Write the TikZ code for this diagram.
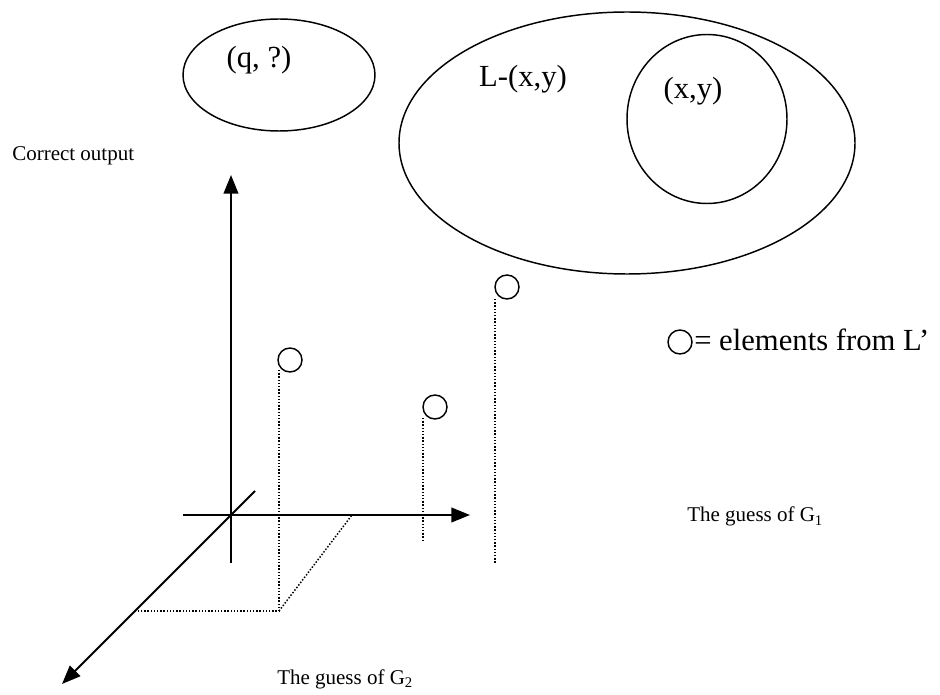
\documentclass[tikz,border=0pt]{standalone}
\usepackage{fontspec}
\setmainfont{Liberation Serif}
\usetikzlibrary{arrows.meta,shapes.geometric}
\begin{document}
\begin{tikzpicture}[x=0.75pt,y=-0.75pt,
  axis/.style={line width=1.5pt,-{Triangle[length=14pt,width=11pt]}},
  dotline/.style={line width=1.1pt,dash pattern=on 1.1pt off 1.3pt},
  blob/.style={draw,line width=1.1pt,ellipse,inner sep=0pt},
  pt/.style={draw,circle,line width=1.1pt,minimum size=18pt,inner sep=0pt},
  small/.style={font=\fontsize{15.75}{18}\selectfont,inner sep=0pt},
  big/.style={font=\fontsize{23}{27}\selectfont,inner sep=0pt}]
\useasboundingbox (0,0) rectangle (940,695);
% sets
\node[blob,minimum width=144pt,minimum height=84pt] (qset) at (279,75) {};
\node[big] (qlab) at (259,60) {(q, ?)};
\node[blob,minimum width=342pt,minimum height=196.5pt] (Lset) at (627,143) {};
\node[big] (Llab) at (523,79) {L-(x,y)};
\node[blob,minimum width=120pt,minimum height=126.75pt] (xyset) at (707,119) {};
\node[big] (xylab) at (693,91) {(x,y)};
% axes
\coordinate (O) at (231,515);
\coordinate (vb) at (231,563);
\coordinate (vt) at (231,175);
\coordinate (hl) at (183,515);
\coordinate (hr) at (470,515);
\coordinate (du) at (255,491);
\coordinate (dl) at (62,684);
\draw[axis] (vb) -- (vt);
\draw[axis] (hl) -- (hr);
\draw[axis] (du) -- (dl);
% points
\node[pt] (p1) at (290,360) {};
\node[pt] (p2) at (435,407) {};
\node[pt] (p3) at (507,287) {};
\coordinate (b1) at (279,611);
\coordinate (c1) at (135,611);
\coordinate (c2) at (352,515);
\coordinate (b2) at (423,540);
\coordinate (b3) at (495,564);
\draw[dotline] (p1.center) ++(-11,10) -- (b1) -- (c1);
\draw[dotline] (b1) -- (c2);
\draw[dotline] (p2.center) ++(-12,11) -- (b2);
\draw[dotline] (p3.center) ++(-12,12) -- (b3);
% labels
\node[small,anchor=west] (yl) at (12,156) {Correct output};
\node[small,anchor=base west] (g1) at (687,522) {The guess of G\textsubscript{1}};
\node[small,anchor=base west] (g2) at (277,684) {The guess of G\textsubscript{2}};
\node[pt] (leg) at (680,342) {};
\node[big,anchor=base west] (legt) at (694,351) {= elements from L’};
\end{tikzpicture}
\end{document}
